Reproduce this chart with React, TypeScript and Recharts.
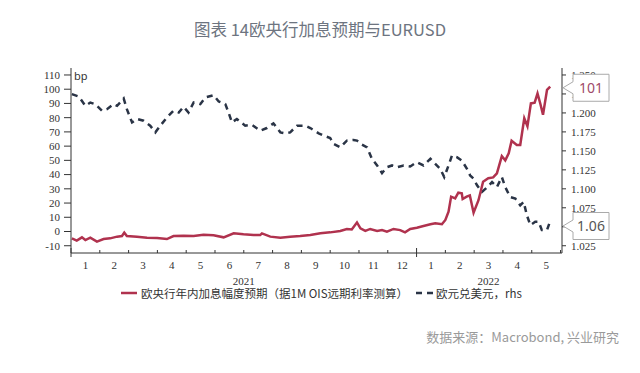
import { ComposedChart, Line, XAxis, YAxis, ReferenceDot } from 'recharts'

// 欧央行年内加息幅度预期 (bp)，x 为自 2021-01 起的月份序号
const ecbMonths = [
  0.03, 0.2, 0.38, 0.5, 0.67, 0.9, 1.13, 1.36, 1.6, 1.77, 1.85, 1.94, 2.29, 2.64, 2.99, 3.33, 3.56, 3.91,
  4.26, 4.6, 4.95, 5.3, 5.65, 5.99, 6.34, 6.57, 6.63, 6.92, 7.27, 7.61, 7.96, 8.31, 8.66, 9.0, 9.35, 9.58,
  9.75, 9.93, 10.05, 10.22, 10.39, 10.63, 10.8, 10.97, 11.2, 11.43, 11.6, 11.78, 12.01, 12.24, 12.48, 12.65,
  12.88, 13.0, 13.11, 13.2, 13.34, 13.45, 13.57, 13.6, 13.74, 13.85, 13.98, 14.15, 14.31, 14.49, 14.66,
  14.79, 14.96, 15.08, 15.2, 15.3, 15.48, 15.6, 15.74, 15.85, 15.97, 16.1, 16.2, 16.3, 16.39, 16.53, 16.64,
]
const ecbBp = [
  -4.8, -6.4, -4.1, -6, -4.3, -7.1, -5.3, -4.8, -3.6, -3.2, -0.8, -3.2, -3.6, -4.3, -4.6, -5.3, -3.2, -2.9,
  -3.2, -2.2, -2.7, -4.1, -1.3, -2, -2.5, -2.5, -1.3, -3.6, -4.3, -3.6, -3.2, -2.5, -1.3, -0.6, 0.4, 1.8,
  1.5, 6.4, 2.2, 0.4, 1.8, 0.4, 1, -0.1, 1.8, 1, -0.6, 1.8, 2.7, 3.9, 5.1, 5.8,
  5.1, 8.1, 13.9, 24.5, 23.3, 27.3, 26.8, 22.8, 24.5, 25.4, 13.2, 22, 35, 37.4, 38,
  40.9, 53, 50, 55, 63.8, 60.8, 60.8, 79.6, 74, 90, 90.5, 97, 89.6, 82, 99.5, 101.8,
]

// 欧元兑美元 (rhs)
const eurMonths = [
  0.03, 0.27, 0.5, 0.67, 0.84, 1.08, 1.25, 1.48, 1.6, 1.83, 1.94, 2.12, 2.29, 2.52, 2.75, 2.93, 3.1, 3.33,
  3.56, 3.74, 3.91, 4.08, 4.26, 4.49, 4.66, 4.95, 5.13, 5.36, 5.47, 5.59, 5.76, 6.05, 6.28, 6.57, 6.8, 7.03,
  7.27, 7.44, 7.61, 7.85, 8.14, 8.31, 8.6, 8.77, 9.0, 9.12, 9.35, 9.58, 9.81, 9.93, 10.1, 10.28, 10.45,
  10.63, 10.8, 10.97, 11.15, 11.32, 11.55, 11.78, 12.01, 12.24, 12.48, 12.65, 12.82, 12.96, 13.11, 13.23,
  13.4, 13.57, 13.75, 13.86, 13.98, 14.1, 14.27, 14.44, 14.62, 14.79, 14.96, 15.08, 15.25, 15.43, 15.6,
  15.72, 15.83, 15.95, 16.12, 16.24, 16.35, 16.53, 16.64,
]
const eurUsd = [
  1.2247, 1.2216, 1.2094, 1.2137, 1.2116, 1.2028, 1.205, 1.2116, 1.2094, 1.219, 1.205, 1.1875, 1.192, 1.1897,
  1.1832, 1.1744, 1.1832, 1.194, 1.2028, 1.2006, 1.2081, 1.2006, 1.2137, 1.2116, 1.2203, 1.2234, 1.215,
  1.2116, 1.2006, 1.1875, 1.192, 1.1832, 1.1845, 1.1766, 1.1801, 1.1862, 1.1744, 1.1731, 1.1744, 1.1832,
  1.1832, 1.1801, 1.1731, 1.1701, 1.167, 1.1592, 1.1547, 1.1635, 1.1644, 1.1635, 1.1583, 1.1547, 1.1395,
  1.1308, 1.1207, 1.1285, 1.1308, 1.1285, 1.1308, 1.1295, 1.1351, 1.1308, 1.1395, 1.133, 1.1264, 1.1155,
  1.1308, 1.1439, 1.1417, 1.1373, 1.1264, 1.1177, 1.1133, 1.1046, 1.0958, 1.1016, 1.1089, 1.1023, 1.1155,
  1.1023, 1.0892, 1.0871, 1.0783, 1.0827, 1.0652, 1.0521, 1.0565, 1.0565, 1.0456, 1.0456, 1.0578,
]

const monthLabels = ['1', '2', '3', '4', '5', '6', '7', '8', '9', '10', '11', '12', '1', '2', '3', '4', '5']
const monthTicks = [0, 1, 2, 3, 4, 5, 6, 7, 8, 9, 10, 11, 12, 13, 14, 15, 16, 17]
const yearLabels: Record<number, string> = { 6: '2021', 14: '2022' }
const leftTicks = [-10, 0, 10, 20, 30, 40, 50, 60, 70, 80, 90, 100, 110]
const rightTicks = [1.025, 1.05, 1.075, 1.1, 1.125, 1.15, 1.175, 1.2, 1.225, 1.25]
const calloutEcb = { value: 101, label: '101' }
const calloutEur = { value: 1.051, label: '1.06' }

const ecbData = ecbMonths.map((m, i) => ({ m, bp: ecbBp[i] }))
const eurData = eurMonths.map((m, i) => ({ m, fx: eurUsd[i] }))

const X_MAX = 17.05
const HALF_MONTH = 491 / X_MAX / 2
const RED = '#b0324e'
const NAVY = '#2a3446'
const AXIS = '#333'
const SERIF = '"Liberation Serif", "Times New Roman", serif'
const SANS = '"Noto Sans", "Noto Sans CJK SC", sans-serif'
const CJK = '"Noto Sans CJK SC", "Noto Sans", sans-serif'

const MonthTick = (props: any) => {
  const { x, y, payload } = props
  const v = payload.value as number
  const isYear = v % 12 === 0
  return (
    <g>
      <line x1={x} x2={x} y1={isYear ? y - 5 : y - 3} y2={isYear ? y + 4 : y} stroke={AXIS} />
      {v < monthLabels.length && (
        <text x={x + HALF_MONTH} y={y + 16} textAnchor="middle" fontSize={11} fontFamily={SERIF} fill="#333">
          {monthLabels[v]}
        </text>
      )}
      {yearLabels[v] && (
        <text x={x + (v === 14 ? HALF_MONTH : 0)} y={y + 32} textAnchor="middle" fontSize={11} fontFamily={SERIF} fill="#333">
          {yearLabels[v]}
        </text>
      )}
    </g>
  )
}

// 右侧数值标注框
const Callout = ({ cx, cy, text, color }: any) => (
  <g>
    <path
      d={`M${cx + 1},${cy} L${cx + 11},${cy - 6} V${cy - 13.5} H${cx + 47} V${cy + 13.5} H${cx + 11} V${cy + 6} Z`}
      fill="#fff"
      stroke="#aaa"
    />
    <text x={cx + 29} y={cy + 5} textAnchor="middle" fontSize={14} fontFamily={SANS} fill={color}>
      {text}
    </text>
  </g>
)

export default function App() {
  return (
    <div style={{ position: 'absolute', left: 0, top: 0, width: 640, height: 373, background: '#fff' }}>
      <div
        style={{
          position: 'absolute', top: 17, left: 0, width: 640, textAlign: 'center',
          fontFamily: CJK, fontSize: 16.5, color: '#6d7480',
        }}
      >
        图表 14欧央行加息预期与EURUSD
      </div>
      <div style={{ position: 'absolute', left: 74, top: 68, fontFamily: SANS, fontSize: 11, color: '#333' }}>bp</div>
      <ComposedChart width={640} height={373} margin={{ top: 68, right: 28, bottom: 90, left: 31 }}>
        <XAxis
          xAxisId="x"
          dataKey="m"
          type="number"
          domain={[0, X_MAX]}
          ticks={monthTicks}
          interval={0}
          tickSize={0}
          tickMargin={0}
          tickLine={false}
          tick={<MonthTick />}
          height={30}
          stroke={AXIS}
          allowDataOverflow
        />
        <YAxis
          yAxisId="left"
          domain={[-15.1, 114.9]}
          ticks={leftTicks}
          interval={0}
          width={40}
          tickSize={7}
          tickMargin={4}
          stroke={AXIS}
          tick={{ fontSize: 11, fontFamily: SERIF, fill: '#333' }}
          allowDataOverflow
        />
        <YAxis
          yAxisId="right"
          orientation="right"
          domain={[1.01544, 1.25919]}
          ticks={rightTicks}
          interval={0}
          width={50}
          tickSize={4}
          tickMargin={5}
          stroke={AXIS}
          tickFormatter={(v: number) => v.toFixed(3)}
          tick={{ fontSize: 11, fontFamily: SERIF, fill: '#333' }}
          allowDataOverflow
        />
        <Line
          xAxisId="x"
          yAxisId="right"
          data={eurData}
          dataKey="fx"
          type="linear"
          stroke={NAVY}
          strokeWidth={2.5}
          strokeDasharray="6 5"
          dot={false}
          isAnimationActive={false}
        />
        <Line
          xAxisId="x"
          yAxisId="left"
          data={ecbData}
          dataKey="bp"
          type="linear"
          stroke={RED}
          strokeWidth={2.5}
          dot={false}
          isAnimationActive={false}
        />
        <ReferenceDot
          xAxisId="x"
          yAxisId="left"
          x={X_MAX}
          y={calloutEcb.value}
          r={0}
          ifOverflow="visible"
          zIndex={2000}
          shape={(p: any) => <Callout cx={p.cx} cy={p.cy} text={calloutEcb.label} color="#a04a6a" />}
        />
        <ReferenceDot
          xAxisId="x"
          yAxisId="right"
          x={X_MAX}
          y={calloutEur.value}
          r={0}
          ifOverflow="visible"
          zIndex={2000}
          shape={(p: any) => <Callout cx={p.cx} cy={p.cy} text={calloutEur.label} color="#555" />}
        />
      </ComposedChart>
      {/* 图例 */}
      <div
        style={{
          position: 'absolute', top: 285, left: 121, display: 'flex', alignItems: 'center',
          fontFamily: CJK, fontSize: 11.5, color: '#333', whiteSpace: 'nowrap',
        }}
      >
        <svg width={16} height={10}>
          <line x1={0} x2={16} y1={5} y2={5} stroke={RED} strokeWidth={2.5} />
        </svg>
        <span style={{ marginLeft: 4 }}>欧央行年内加息幅度预期（据1M OIS远期利率测算）</span>
        <svg width={17} height={10} style={{ marginLeft: 8 }}>
          <line x1={0} x2={17} y1={5} y2={5} stroke={NAVY} strokeWidth={2.5} strokeDasharray="6 5" />
        </svg>
        <span style={{ marginLeft: 3 }}>欧元兑美元，rhs</span>
      </div>
      <div
        style={{
          position: 'absolute', top: 327, right: 21, fontFamily: CJK, fontSize: 13, color: '#9a9a9a',
        }}
      >
        数据来源：Macrobond, 兴业研究
      </div>
    </div>
  )
}
